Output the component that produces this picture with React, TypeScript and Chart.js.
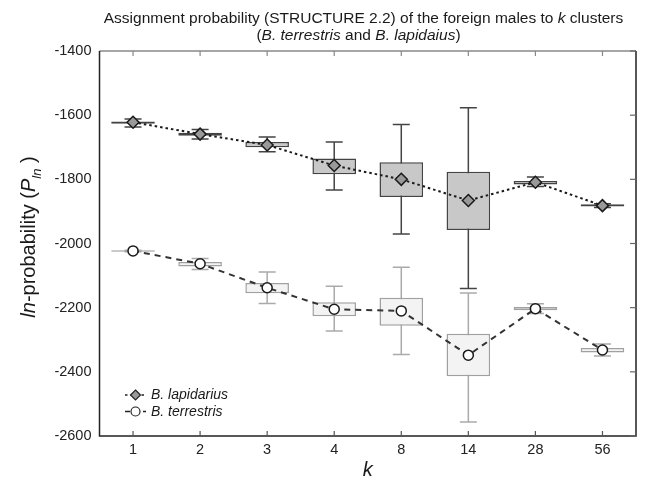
import React, { useEffect, useRef } from 'react';
import { Chart, registerables } from 'chart.js';

Chart.register(...registerables);

const FONT = '"Liberation Sans", Arial, Helvetica, sans-serif';

// ---- data ----
const kLabels = ['1', '2', '3', '4', '8', '14', '28', '56'];
const yTicks = [-2600, -2400, -2200, -2000, -1800, -1600, -1400];

// B. lapidarius
const lapMean = [-1622, -1659, -1693, -1757, -1800, -1866, -1809, -1882];
const lapBoxHigh = [-1620, -1655, -1684, -1735, -1747, -1776, -1805, -1878];
const lapBoxLow = [-1627, -1664, -1700, -1784, -1855, -1958, -1816, -1885];
const lapWhiskerHigh = [-1612, -1645, -1668, -1684, -1629, -1577, -1793, -1876];
const lapWhiskerLow = [-1637, -1674, -1714, -1833, -1970, -2140, -1822, -1888];

// B. terrestris
const terMean = [-2023, -2063, -2138, -2205, -2210, -2348, -2203, -2332];
const terBoxHigh = [-2021, -2058, -2123, -2183, -2169, -2281, -2198, -2326];
const terBoxLow = [-2026, -2072, -2155, -2227, -2256, -2414, -2208, -2340];
const terWhiskerHigh = [-2021, -2047, -2089, -2133, -2074, -2154, -2188, -2313];
const terWhiskerLow = [-2026, -2081, -2187, -2273, -2346, -2556, -2218, -2351];

type Run = { text: string; italic?: boolean; sub?: boolean };

function font(size: number, italic?: boolean) {
  return `${italic ? 'italic ' : ''}${size}px ${FONT}`;
}

function drawRuns(ctx: CanvasRenderingContext2D, runs: Run[], cx: number, baseline: number, size: number, subSize = size * 0.7) {
  let total = 0;
  const widths = runs.map((r) => {
    ctx.font = font(r.sub ? subSize : size, r.italic);
    const w = ctx.measureText(r.text).width;
    total += w;
    return w;
  });
  let x = cx - total / 2;
  ctx.textAlign = 'left';
  ctx.textBaseline = 'alphabetic';
  runs.forEach((r, i) => {
    ctx.font = font(r.sub ? subSize : size, r.italic);
    ctx.fillText(r.text, x, baseline + (r.sub ? size * 0.3 : 0));
    x += widths[i];
  });
}

const whiskerPlugin = {
  id: 'whiskers',
  beforeDatasetsDraw(chart: any) {
    const ctx: CanvasRenderingContext2D = chart.ctx;
    const xs = chart.scales.x;
    const ys = chart.scales.y;
    const capHalf = 8.5;
    const groups = [
      { hi: terWhiskerHigh, lo: terWhiskerLow, color: '#aaaaaa' },
      { hi: lapWhiskerHigh, lo: lapWhiskerLow, color: '#444444' },
    ];
    ctx.save();
    ctx.lineWidth = 1.5;
    groups.forEach((g) => {
      ctx.strokeStyle = g.color;
      kLabels.forEach((_, i) => {
        const x = xs.getPixelForValue(i);
        const yH = ys.getPixelForValue(g.hi[i]);
        const yL = ys.getPixelForValue(g.lo[i]);
        ctx.beginPath();
        ctx.moveTo(x, yH);
        ctx.lineTo(x, yL);
        ctx.moveTo(x - capHalf, yH);
        ctx.lineTo(x + capHalf, yH);
        ctx.moveTo(x - capHalf, yL);
        ctx.lineTo(x + capHalf, yL);
        ctx.stroke();
      });
    });
    ctx.restore();
  },
};

const decorPlugin = {
  id: 'decor',
  afterDraw(chart: any) {
    const ctx: CanvasRenderingContext2D = chart.ctx;
    const { left, right, top, bottom } = chart.chartArea;
    const xs = chart.scales.x;
    const ys = chart.scales.y;
    ctx.save();
    // frame
    ctx.lineWidth = 1.5;
    ctx.strokeStyle = '#888888';
    ctx.beginPath();
    ctx.moveTo(left, top);
    ctx.lineTo(right, top);
    ctx.stroke();
    ctx.strokeStyle = '#222222';
    ctx.beginPath();
    ctx.moveTo(left, top);
    ctx.lineTo(left, bottom);
    ctx.lineTo(right, bottom);
    ctx.lineTo(right, top);
    ctx.stroke();
    // inward ticks
    ctx.lineWidth = 1.2;
    kLabels.forEach((_, i) => {
      const x = xs.getPixelForValue(i);
      ctx.strokeStyle = '#555555';
      ctx.beginPath();
      ctx.moveTo(x, bottom);
      ctx.lineTo(x, bottom - 5);
      ctx.stroke();
      ctx.strokeStyle = '#888888';
      ctx.beginPath();
      ctx.moveTo(x, top);
      ctx.lineTo(x, top + 5);
      ctx.stroke();
    });
    yTicks.forEach((v) => {
      const y = ys.getPixelForValue(v);
      ctx.strokeStyle = '#666666';
      ctx.beginPath();
      ctx.moveTo(right, y);
      ctx.lineTo(right - 6, y);
      ctx.stroke();
    });

    ctx.fillStyle = '#1a1a1a';
    // title
    drawRuns(ctx, [
      { text: 'Assignment probability (STRUCTURE 2.2) of the foreign males to ' },
      { text: 'k', italic: true },
      { text: ' clusters' },
    ], 363.5, 22.5, 15.5);
    drawRuns(ctx, [
      { text: '(' },
      { text: 'B. terrestris', italic: true },
      { text: ' and ' },
      { text: 'B. lapidaius', italic: true },
      { text: ')' },
    ], 358.5, 40, 15.5);

    // x title
    drawRuns(ctx, [{ text: 'k', italic: true }], (left + right) / 2, 476, 20);

    // y title
    ctx.save();
    ctx.translate(35, 237);
    ctx.rotate(-Math.PI / 2);
    drawRuns(ctx, [
      { text: 'ln', italic: true },
      { text: '-probability (' },
      { text: 'P', italic: true },
      { text: 'ln', italic: true, sub: true },
      { text: ' )' },
    ], 0, 0, 20, 13);
    ctx.restore();

    // legend
    const items = [
      { label: 'B. lapidarius', y: 395, dash: [2.5, 3], style: 'diamond' },
      { label: 'B. terrestris', y: 411.5, dash: [5, 4], style: 'circle' },
    ];
    items.forEach((it) => {
      ctx.save();
      ctx.strokeStyle = '#222222';
      ctx.lineWidth = 1.5;
      ctx.setLineDash(it.dash);
      ctx.beginPath();
      ctx.moveTo(125, it.y);
      ctx.lineTo(146, it.y);
      ctx.stroke();
      ctx.setLineDash([]);
      ctx.lineWidth = 1.2;
      ctx.beginPath();
      if (it.style === 'diamond') {
        ctx.moveTo(135.5, it.y - 5);
        ctx.lineTo(140.5, it.y);
        ctx.lineTo(135.5, it.y + 5);
        ctx.lineTo(130.5, it.y);
        ctx.closePath();
        ctx.fillStyle = '#999999';
      } else {
        ctx.arc(135.5, it.y, 4.5, 0, Math.PI * 2);
        ctx.fillStyle = '#ffffff';
      }
      ctx.fill();
      ctx.stroke();
      ctx.restore();
      ctx.fillStyle = '#1a1a1a';
      ctx.font = font(14, true);
      ctx.textAlign = 'left';
      ctx.textBaseline = 'middle';
      ctx.fillText(it.label, 151, it.y + 0.5);
    });
    ctx.restore();
  },
};

export default function App() {
  const ref = useRef<HTMLCanvasElement>(null);
  useEffect(() => {
    const canvas = ref.current;
    if (!canvas) return;
    Chart.defaults.font.family = FONT;
    const chart = new Chart(canvas, {
      type: 'bar',
      data: {
        labels: kLabels,
        datasets: [
          {
            type: 'line',
            label: 'B. lapidarius',
            data: lapMean,
            borderColor: '#1a1a1a',
            borderWidth: 2,
            borderDash: [2.5, 3],
            pointStyle: 'rectRot',
            pointRadius: 6,
            pointBackgroundColor: '#999999',
            pointBorderColor: '#1a1a1a',
            pointBorderWidth: 1.5,
            fill: false,
            tension: 0,
            order: 0,
          } as any,
          {
            type: 'line',
            label: 'B. terrestris',
            data: terMean,
            borderColor: '#333333',
            borderWidth: 2,
            borderDash: [6, 5],
            pointStyle: 'circle',
            pointRadius: 5,
            pointBackgroundColor: '#ffffff',
            pointBorderColor: '#1a1a1a',
            pointBorderWidth: 1.5,
            fill: false,
            tension: 0,
            order: 1,
          } as any,
          {
            type: 'bar',
            label: 'lap box',
            data: kLabels.map((_, i) => [lapBoxLow[i], lapBoxHigh[i]]),
            backgroundColor: '#c8c8c8',
            borderColor: '#444444',
            borderWidth: 1.5,
            borderSkipped: false,
            grouped: false,
            barPercentage: 0.65,
            categoryPercentage: 1,
            order: 2,
          } as any,
          {
            type: 'bar',
            label: 'ter box',
            data: kLabels.map((_, i) => [terBoxLow[i], terBoxHigh[i]]),
            backgroundColor: '#f3f3f3',
            borderColor: '#a0a0a0',
            borderWidth: 1.5,
            borderSkipped: false,
            grouped: false,
            barPercentage: 0.65,
            categoryPercentage: 1,
            order: 3,
          } as any,
        ],
      },
      options: {
        animation: false,
        responsive: false,
        devicePixelRatio: 1,
        layout: { padding: { top: 51, right: 10, left: 0, bottom: 0 } },
        plugins: {
          legend: { display: false },
          tooltip: { enabled: false },
          title: { display: false },
        },
        scales: {
          x: {
            type: 'category',
            offset: true,
            grid: { display: false, drawTicks: false },
            border: { display: false },
            ticks: { font: { family: FONT, size: 14.5 }, color: '#222222', padding: 5, maxRotation: 0, autoSkip: false },
            afterFit: (s: any) => { s.height = 46; },
          },
          y: {
            type: 'linear',
            min: -2600,
            max: -1400,
            grid: { display: false, drawTicks: false },
            border: { display: false },
            ticks: {
              font: { family: FONT, size: 14.5 },
              color: '#222222',
              padding: 8,
              callback: (v: any) => String(v),
            },
            afterBuildTicks: (s: any) => { s.ticks = yTicks.map((v) => ({ value: v })); },
            afterFit: (s: any) => { s.width = 99.5; },
          },
        },
      } as any,
      plugins: [whiskerPlugin, decorPlugin],
    });
    return () => chart.destroy();
  }, []);

  return (
    <div style={{ position: 'absolute', left: 0, top: 0, width: 646, height: 482, background: '#ffffff' }}>
      <canvas ref={ref} width={646} height={482} />
    </div>
  );
}
